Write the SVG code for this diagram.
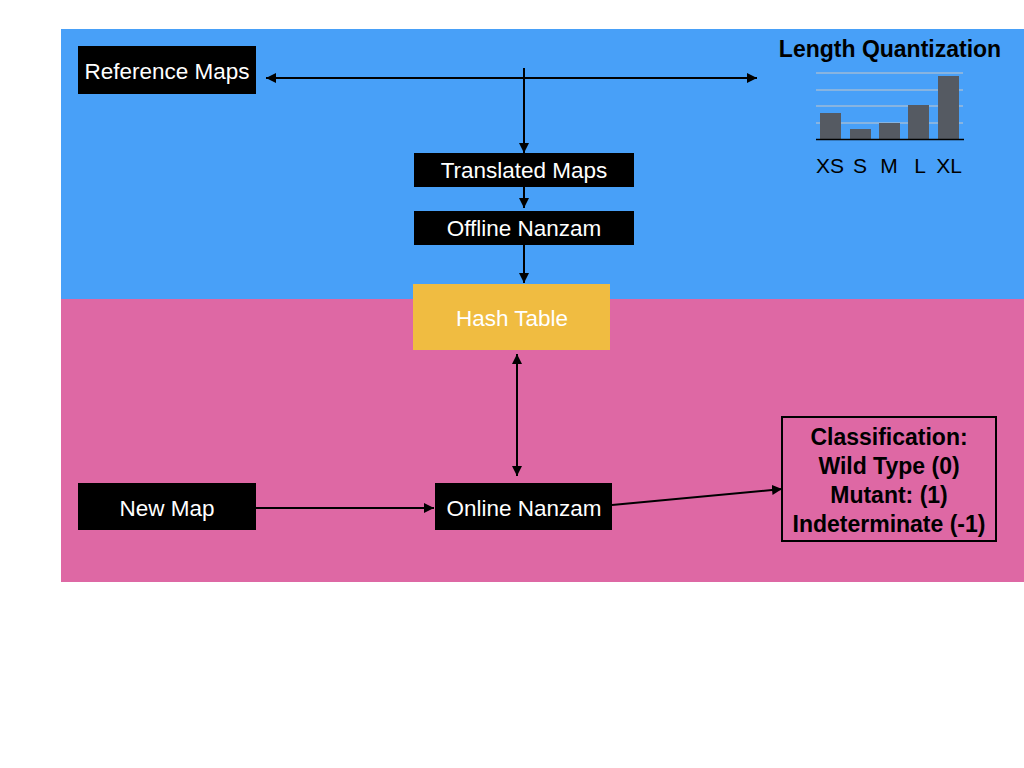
<svg xmlns="http://www.w3.org/2000/svg" width="1024" height="768" viewBox="0 0 1024 768">
<style>
.lbl{font-family:"Liberation Sans",Arial,sans-serif;font-size:22.5px;fill:#fff;text-anchor:middle}
.blk{font-family:"Liberation Sans",Arial,sans-serif;font-size:21px;fill:#000;text-anchor:middle}
.bold{font-weight:bold;font-size:23px}
.box{fill:#000}
.conn{stroke:#000;stroke-width:2;fill:none}
.grid{stroke:#C8C8C8;stroke-width:1}
.bar{fill:#555A62}
</style>
<defs>
<marker id="ah" viewBox="0 0 10 10" refX="10" refY="5" markerWidth="10" markerHeight="10" markerUnits="userSpaceOnUse" orient="auto-start-reverse">
<path d="M0,0 L10,5 L0,10 z" fill="#000"/>
</marker>
</defs>
<rect width="1024" height="768" fill="#fff"/>
<rect id="region-top" x="61" y="29" width="963" height="270" fill="#48A0F8"/>
<rect id="region-bottom" x="61" y="299" width="963" height="283" fill="#DE68A4"/>

<g id="chart">
<text class="blk bold" x="890" y="57">Length Quantization</text>
<line class="grid" x1="816" y1="73" x2="963" y2="73"/>
<line class="grid" x1="816" y1="90" x2="963" y2="90"/>
<line class="grid" x1="816" y1="106" x2="963" y2="106"/>
<line class="grid" x1="816" y1="123" x2="963" y2="123"/>
<rect class="bar" x="820" y="113" width="21" height="26"/>
<rect class="bar" x="850" y="129" width="21" height="10"/>
<rect class="bar" x="879" y="123" width="21" height="16"/>
<rect class="bar" x="908" y="105" width="21" height="34"/>
<rect class="bar" x="938" y="76" width="21" height="63"/>
<line x1="816" y1="139.5" x2="964" y2="139.5" stroke="#000" stroke-width="1.5"/>
<text class="blk" x="830" y="173">XS</text>
<text class="blk" x="860" y="173">S</text>
<text class="blk" x="889" y="173">M</text>
<text class="blk" x="920" y="173">L</text>
<text class="blk" x="949" y="173">XL</text>
</g>

<g id="node-reference-maps">
<rect class="box" x="78" y="46" width="178" height="48"/>
<text class="lbl" x="167" y="79">Reference Maps</text>
</g>
<g id="node-translated-maps">
<rect class="box" x="414" y="153" width="220" height="34"/>
<text class="lbl" x="524" y="178">Translated Maps</text>
</g>
<g id="node-offline-nanzam">
<rect class="box" x="414" y="211" width="220" height="34"/>
<text class="lbl" x="524" y="236">Offline Nanzam</text>
</g>
<g id="node-hash-table">
<rect x="413" y="284" width="197" height="66" fill="#F0BC41"/>
<text class="lbl" x="512" y="326">Hash Table</text>
</g>
<g id="node-new-map">
<rect class="box" x="78" y="483" width="178" height="47"/>
<text class="lbl" x="167" y="516">New Map</text>
</g>
<g id="node-online-nanzam">
<rect class="box" x="435" y="483" width="177" height="47"/>
<text class="lbl" x="524" y="516">Online Nanzam</text>
</g>
<g id="node-classification">
<rect x="782" y="417" width="214" height="124" fill="none" stroke="#000" stroke-width="2"/>
<text class="blk bold" x="889" y="445">Classification:</text>
<text class="blk bold" x="889" y="474">Wild Type (0)</text>
<text class="blk bold" x="889" y="503">Mutant: (1)</text>
<text class="blk bold" x="889" y="532">Indeterminate (-1)</text>
</g>

<g id="connectors">
<line class="conn" x1="266" y1="78" x2="757" y2="78" marker-start="url(#ah)" marker-end="url(#ah)"/>
<line class="conn" x1="524" y1="68" x2="524" y2="153" marker-end="url(#ah)"/>
<line class="conn" x1="524" y1="187" x2="524" y2="208" marker-end="url(#ah)"/>
<line class="conn" x1="524" y1="245" x2="524" y2="283" marker-end="url(#ah)"/>
<line class="conn" x1="517" y1="354" x2="517" y2="476" marker-start="url(#ah)" marker-end="url(#ah)"/>
<line class="conn" x1="256" y1="508" x2="434" y2="508" marker-end="url(#ah)"/>
<line class="conn" x1="612" y1="505" x2="782" y2="489" marker-end="url(#ah)"/>
</g>
</svg>
